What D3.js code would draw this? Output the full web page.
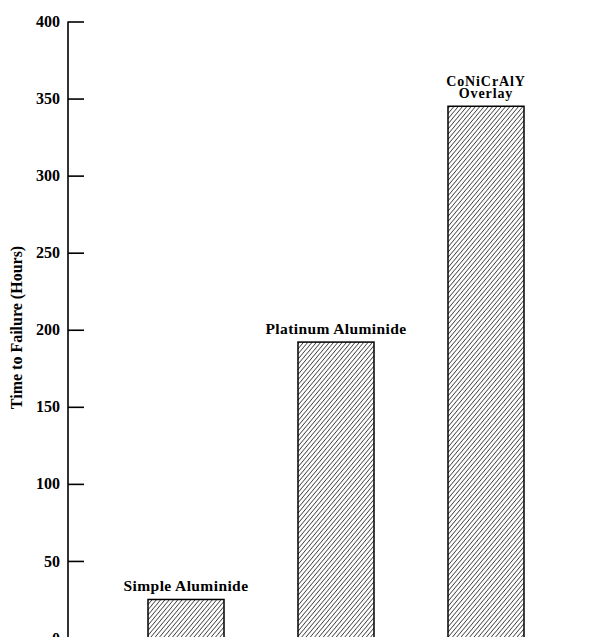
<!DOCTYPE html>
<html>
<head>
<meta charset="utf-8">
<script src="https://cdn.jsdelivr.net/npm/d3@7"></script>
<style>
  html, body { margin: 0; padding: 0; background: #fff; }
  svg { display: block; }
  text { font-family: "Liberation Serif", "Times New Roman", serif; font-weight: bold; fill: #000; }
</style>
</head>
<body>
<script>
// Data
const categories = ["Simple Aluminide", "Platinum Aluminide", "CoNiCrAlY Overlay"];
const labelLines = [["Simple Aluminide"], ["Platinum Aluminide"], ["CoNiCrAlY", "Overlay"]];
const values = [25, 192, 345];
const yTicks = [0, 50, 100, 150, 200, 250, 300, 350, 400];
const yTitle = "Time to Failure (Hours)";

const W = 595, H = 637;
const svg = d3.select("body").append("svg").attr("width", W).attr("height", H);

// hatch pattern
const defs = svg.append("defs");
const pat = defs.append("pattern")
  .attr("id", "hatch")
  .attr("patternUnits", "userSpaceOnUse")
  .attr("width", 3.3).attr("height", 3.3)
  .attr("patternTransform", "rotate(40)");
pat.append("rect").attr("width", 3.3).attr("height", 3.3).attr("fill", "#fff");
pat.append("line").attr("x1", 0).attr("y1", 0).attr("x2", 0).attr("y2", 3.3)
  .attr("stroke", "#000").attr("stroke-width", 1.2);

const y = d3.scaleLinear().domain([0, 400]).range([638, 21.5]);
const x = d3.scaleBand().domain(categories).range([111, 561])
  .paddingInner(0.4933).paddingOuter(0.2467);

const axisX = 68;

// axis
const yAxis = d3.axisRight(y).tickValues(yTicks).tickSize(16).tickFormat("");
const gA = svg.append("g").attr("transform", `translate(${axisX},0)`).call(yAxis);
gA.select(".domain").attr("d", `M0,${y(400)}V${H + 5}`).attr("stroke", "#000").attr("stroke-width", 1.6).attr("fill", "none");
gA.selectAll(".tick line").attr("stroke", "#000").attr("stroke-width", 1.6);

// tick labels
svg.append("g").selectAll("text").data(yTicks).join("text")
  .attr("x", 60).attr("y", d => y(d))
  .attr("dy", "0.35em")
  .attr("text-anchor", "end")
  .attr("font-size", 16)
  .text(d => d);

// y title
svg.append("text")
  .attr("transform", `translate(21.5,327.5) rotate(-90)`)
  .attr("text-anchor", "middle")
  .attr("font-size", 16)
  .text(yTitle);

// bars
svg.append("g").selectAll("rect").data(values).join("rect")
  .attr("x", (d, i) => x(categories[i]))
  .attr("y", d => y(d))
  .attr("width", x.bandwidth())
  .attr("height", d => y(0) - y(d) + 5)
  .attr("fill", "url(#hatch)")
  .attr("stroke", "#000")
  .attr("stroke-width", 1.5);

// labels
const lg = svg.append("g");
values.forEach((v, i) => {
  const cx = x(categories[i]) + x.bandwidth() / 2;
  const lines = labelLines[i];
  const multi = lines.length > 1;
  const fs = multi ? 14 : 15.5;
  const ls = multi ? 0.9 : 0.4;
  const lh = 12;
  lines.forEach((t, j) => {
    lg.append("text")
      .attr("x", cx)
      .attr("y", y(v) - 8 - (lines.length - 1 - j) * lh)
      .attr("text-anchor", "middle")
      .attr("font-size", fs)
      .attr("letter-spacing", ls)
      .text(t);
  });
});
</script>
</body>
</html>
